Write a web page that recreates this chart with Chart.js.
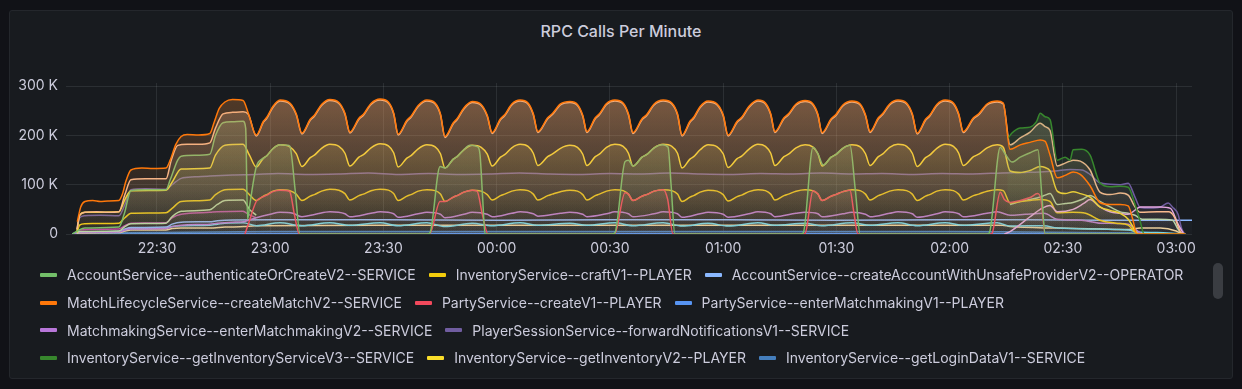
<!DOCTYPE html>
<html><head><meta charset="utf-8">
<script src="https://cdn.jsdelivr.net/npm/chart.js@4.4.1/dist/chart.umd.min.js"></script>
<style>
html,body{margin:0;padding:0;background:#111217;width:1242px;height:389px;overflow:hidden;font-family:Inter,'Noto Sans',sans-serif;}
#panel{position:absolute;left:9px;top:10px;width:1224px;height:369px;background:#181b1f;border:1px solid #24272c;border-radius:3px;box-sizing:border-box;}
#title{position:absolute;left:0;top:21px;width:1242px;text-align:center;color:#ccccdc;font-size:16px;font-weight:500;line-height:20px;}
#chart{position:absolute;left:0;top:0;}
#legend{position:absolute;left:40px;top:261px;width:1170px;height:112px;overflow:hidden;display:flex;flex-wrap:wrap;align-content:flex-start;column-gap:13px;}
.item{display:flex;align-items:center;height:27.7px;color:#ccccdc;font-size:14px;white-space:nowrap;}
.mark{width:17px;height:4px;border-radius:1px;margin-right:10px;flex:none;}
#thumb{position:absolute;left:1213px;top:263px;width:10px;height:36px;border-radius:5px;background:#3a3d42;}
</style></head>
<body>
<div id="panel"></div>
<div id="title">RPC Calls Per Minute</div>
<canvas id="chart" width="1242" height="389"></canvas>
<div id="legend"></div>
<div id="thumb"></div>
<script>
// time = minutes after 22:00, values = calls per minute in thousands (K)
const tickMinutes = [30,60,90,120,150,180,210,240,270,300];
const tickLabels = ['22:30','23:00','23:30','00:00','00:30','01:00','01:30','02:00','02:30','03:00'];
const yTicks = [0,100,200,300];
const yTickLabels = ['0','100 K','200 K','300 K'];

const authenticateOrCreate = [[7.6,0],[9.3,8],[10.9,12],[19.9,14],[21.3,40],[23.1,88],[27,90],[32.4,90],[33.5,110],[35.5,150],[36.4,158],[40,160],[44,162],[45.5,200],[47.5,226],[50,228],[52.8,229],[53.5,215],[54.0,30],[54.6,60],[56.3,136],[58.2,154],[59.1,159],[60.7,173],[62.6,181],[64.5,180],[65.2,178],[66.6,90],[67.9,0],[101.6,0],[102.3,2],[105.0,137],[106.3,134],[108.5,152],[109.5,157],[111.3,171],[112.9,180],[115.0,177],[115.6,160],[116.3,70],[116.9,0],[150.6,0],[151.3,2],[154.0,147],[154.9,150],[156.1,138],[158.5,156],[159.7,161],[161.7,175],[163.8,181],[165.4,176],[166.2,100],[167.2,0],[200.5,0],[201.2,2],[203.8,176],[205.1,163],[206.5,140],[208.6,156],[209.8,161],[211.7,174],[213.6,180],[215.0,90],[216.3,0],[250.0,0],[250.5,2],[253.4,176],[254.5,165],[256.5,146],[258.7,156],[261.3,165],[263.4,171],[264.4,80],[265.3,0],[302.4,0]];

const craftV1 = [[8.8,3],[9.5,18],[10.9,21],[19.9,22],[21.5,33],[23.1,42],[32.4,43],[34,52],[36.4,66],[44,69],[45.5,80],[48,90],[52.8,91],[54.5,80],
[56.3,68],[58.2,77],[59.1,80],[60.7,87],[62.6,90],[65.2,88],[66.9,81],
[68.4,68],[70.6,77],[71.7,80],[73.6,87],[75.8,91],[78.2,89],[79.8,82],
[81.1,69],[83.5,78],[84.7,81],[86.7,88],[89.1,91],[91.3,89],[92.7,82],
[93.9,68],[96.2,77],[97.3,80],[99.2,87],[101.5,90],[103.7,88],[105.1,81],
[106.3,66],[108.5,75],[109.5,78],[111.3,85],[113.5,89],[115.9,87],[117.5,80],
[118.8,69],[121.0,78],[122.1,81],[124.0,87],[126.2,90],[128.3,88],[129.7,81],
[130.9,69],[133.5,78],[134.7,81],[136.9,86],[139.4,89],[141.4,87],[142.8,80],
[143.9,69],[146.1,78],[147.2,81],[149.1,87],[151.3,90],[153.5,88],[154.9,81],
[156.1,68],[158.5,77],[159.7,80],[161.7,87],[164.1,90],[166.4,88],[167.9,81],
[169.1,66],[171.2,75],[172.2,78],[173.9,85],[176.0,89],[178.4,87],[180.0,80],
[181.3,67],[183.7,76],[184.9,79],[186.8,86],[189.2,90],[191.2,88],[192.6,81],
[193.7,69],[196.1,78],[197.3,81],[199.3,87],[201.7,90],[203.7,88],[205.1,81],
[206.2,68],[208.6,77],[209.8,80],[211.7,86],[214.1,90],[216.3,88],[217.7,81],
[218.9,69],[221.1,78],[222.2,81],[224.1,87],[226.3,90],[228.6,88],[230.1,81],
[231.4,68],[233.6,77],[234.7,80],[236.6,87],[238.8,90],[241.0,88],[242.4,81],
[243.6,69],[246.3,78],[247.7,81],[249.9,87],[252.6,90],
[254.2,88],[256.0,63],[258.7,66],[261.3,68],[264.0,70],[266.6,66],[268.5,43],[272.7,44],[276,42],[279.8,28],[284,22],[287.3,18],[289.1,4],[289.8,0],[302.4,0]];

const createAccountWithUnsafeProvider = [[8.8,0],[9.3,4],[19.9,5],[21.5,10],[23.1,13],[32.4,14],[34,20],[36.4,24],[44,25],[46,27],[48,28],[60,29],[90,29],[120,28],[150,29],[180,29],[210,28],[240,29],[260,29],[280,28],[295,28],[304.2,28]];

const createMatchV2 = [[8.9,25],[9.8,55],[10.9,66],[13,68],[15,66],[17,67],[19.9,68],[20.8,80],[21.8,108],[23.1,130],[26,134],[29,133],[32.4,134],[33.5,150],[35,182],[36.4,198],[38,202],[41,201],[44,204],[45.2,228],[46.5,255],[48,268],[50,273],[52.8,271],[54.2,245],
[56.3,201],[58.2,229],[59.1,237],[60.7,259],[62.6,272],[65.2,266],[66.9,244],
[68.4,205],[70.6,233],[71.7,241],[73.6,263],[75.8,273],[78.2,267],[79.8,245],
[81.1,207],[83.5,235],[84.7,243],[86.7,265],[89.1,274],[91.3,268],[92.7,246],
[93.9,203],[96.2,231],[97.3,239],[99.2,261],[101.5,272],[103.7,266],[105.1,244],
[106.3,198],[108.5,226],[109.5,234],[111.3,256],[113.5,269],[115.9,263],[117.5,241],
[118.8,206],[121.0,234],[122.1,242],[124.0,264],[126.2,272],[128.3,266],[129.7,244],
[130.9,208],[133.5,236],[134.7,244],[136.9,264],[139.4,269],[141.4,263],[142.8,241],
[143.9,208],[146.1,236],[147.2,244],[149.1,265],[151.3,272],[153.5,266],[154.9,244],
[156.1,206],[158.5,234],[159.7,242],[161.7,264],[164.1,272],[166.4,266],[167.9,244],
[169.1,201],[171.2,229],[172.2,237],[173.9,259],[176.0,270],[178.4,264],[180.0,242],
[181.3,201],[183.7,229],[184.9,237],[186.8,259],[189.2,272],[191.2,266],[192.6,244],
[193.7,208],[196.1,236],[197.3,244],[199.3,264],[201.7,271],[203.7,265],[205.1,243],
[206.2,206],[208.6,234],[209.8,242],[211.7,262],[214.1,270],[216.3,264],[217.7,242],
[218.9,208],[221.1,236],[222.2,244],[224.1,264],[226.3,272],[228.6,266],[230.1,244],
[231.4,205],[233.6,233],[234.7,241],[236.6,263],[238.8,272],[241.0,266],[242.4,244],
[243.6,208],[246.3,236],[247.7,244],[249.9,264],[252.6,270],
[254.2,266],[256.0,172],[258.7,181],[261.3,186],[264.0,191],[265.3,188],[266.6,160],[268.5,114],[270.6,119],[272.7,126],[274.6,121],[277.2,98],[279.8,64],[282.5,60],[285.2,60],[287.3,57],[288.5,30],[289.6,0],[302.4,0]];

const partyCreateV1 = [[53.3,0],[54.2,20],[56.3,66],[58.2,76],[59.1,79],[60.7,86],[62.6,89],[64.5,88],[65.2,86],[66.4,40],[67.7,0],[101.6,0],[102.3,1],[105.0,66],[106.3,66],[108.5,75],[109.5,78],[111.3,85],[113.5,89],[114.8,87],[116.2,40],[117.7,0],[150.6,0],[151.3,1],[154.0,84],[154.9,81],[156.1,68],[158.5,77],[159.7,80],[161.7,87],[164.1,90],[165.3,70],[166.7,0],[201.0,0],[201.7,1],[203.8,88],[205.1,81],[206.2,68],[208.6,77],[209.8,80],[211.7,86],[213.6,89],[214.6,45],[215.7,0],[250.8,0],[251.2,1],[253.4,85],[254.5,70],[256.0,64],[258.7,68],[261.3,74],[263.3,82],[264.2,70],[265.3,0],[302.4,0]];

const partyEnterMatchmakingV1 = [[7.6,0],[9.5,1],[60,1],[120,1],[180,1],[240,1],[290,1],[302.4,0]];

const enterMatchmakingV2 = [[7.6,0],[9.3,3],[19.9,4],[21.5,8],[23.1,10],[32.4,11],[34,15],[36.4,18],[44,20],[46,22],[50,24],[53,25],[54.2,28],[56.3,33],[60,40],[62.6,44],[66,42],[68.4,35],[72,40],[75.8,45],[79.8,41],[81.1,35],[86.7,42],[89.1,45],[92.7,41],[93.9,34],[99.2,41],[101.5,44],[105.1,40],[106.3,33],[111.3,40],[113.5,44],[117.5,40],[118.8,35],[124.0,42],[126.2,45],[129.7,41],[130.9,36],[136.9,42],[139.4,44],[142.8,40],[143.9,35],[149.1,41],[151.3,45],[154.9,41],[156.1,35],[161.7,41],[164.1,45],[167.9,41],[169.1,34],[173.9,41],[176.0,44],[180.0,40],[181.3,34],[186.8,41],[189.2,45],[192.6,41],[193.7,35],[199.3,42],[201.7,44],[205.1,41],[206.2,35],[211.7,41],[214.1,44],[217.7,40],[218.9,35],[224.1,42],[226.3,45],[230.1,41],[231.4,34],[236.6,41],[238.8,45],[242.4,41],[243.6,35],[249.9,42],[252.6,45],[256,38],[260,40],[265,42],[268.5,30],[275,28],[280,22],[287.3,20],[289.5,8],[291,0],[302.4,0]];

const forwardNotificationsV1 = [[8.8,8],[9.5,33],[10.9,37],[15,38],[19.9,37],[21.5,60],[23.1,90],[27,92],[32.4,91],[34,100],[36.4,113],[40,116],[44,118],[50,120],[56,121],[62,123],[70,121],[78,122],[86,124],[94,121],[102,123],[110,121],[118,122],[126,124],[134,122],[142,121],[150,123],[158,122],[166,124],[174,122],[182,121],[190,123],[198,122],[206,124],[214,122],[222,123],[230,121],[238,123],[246,122],[254,124],[260,125],[264,126],[268,128],[272,131],[275,130],[277.2,121],[279.8,104],[282.5,101],[285.2,100],[287.3,103],[289.1,75],[290.5,54],[293.1,53],[295.8,55],[297.9,63],[299.0,55],[300.5,40],[301.5,10],[302.3,0]];

const getInventoryServiceV3 = [[255.3,193],[256.5,205],[258.7,215],[261.3,217],[263.0,228],[264.0,245],[265.3,238],[266.6,232],[268.5,150],[270.6,156],[271.9,150],[272.7,171],[275,172],[277.2,160],[279.8,104],[282.5,96],[285.2,97],[287.3,95],[289.1,60],[290.5,25],[291.5,0],[302.4,0]];

const getInventoryV2 = [[8.8,5],[9.5,38],[10.9,44],[19.9,45],[21.5,70],[23.1,88],[32.4,89],[34,105],[36.4,132],[44,134],[45.5,160],[48,180],[52.8,182],[54.5,160],
[56.3,136],[58.2,154],[59.1,159],[60.7,173],[62.6,181],[65.2,177],[66.9,163],
[68.4,137],[70.6,155],[71.7,160],[73.6,174],[75.8,182],[78.2,178],[79.8,164],
[81.1,138],[83.5,156],[84.7,161],[86.7,175],[89.1,183],[91.3,179],[92.7,165],
[93.9,136],[96.2,154],[97.3,159],[99.2,173],[101.5,181],[103.7,177],[105.1,163],
[106.3,134],[108.5,152],[109.5,157],[111.3,171],[113.5,180],[115.9,176],[117.5,162],
[118.8,138],[121.0,156],[122.1,161],[124.0,175],[126.2,182],[128.3,178],[129.7,164],
[130.9,139],[133.5,157],[134.7,162],[136.9,174],[139.4,180],[141.4,176],[142.8,162],
[143.9,139],[146.1,157],[147.2,162],[149.1,176],[151.3,182],[153.5,178],[154.9,164],
[156.1,138],[158.5,156],[159.7,161],[161.7,175],[164.1,182],[166.4,178],[167.9,164],
[169.1,134],[171.2,152],[172.2,157],[173.9,171],[176.0,181],[178.4,177],[180.0,163],
[181.3,135],[183.7,153],[184.9,158],[186.8,172],[189.2,182],[191.2,178],[192.6,164],
[193.7,139],[196.1,157],[197.3,162],[199.3,175],[201.7,181],[203.7,177],[205.1,163],
[206.2,138],[208.6,156],[209.8,161],[211.7,174],[214.1,181],[216.3,177],[217.7,163],
[218.9,139],[221.1,157],[222.2,162],[224.1,176],[226.3,182],[228.6,178],[230.1,164],
[231.4,137],[233.6,155],[234.7,160],[236.6,174],[238.8,182],[241.0,178],[242.4,164],
[243.6,139],[246.3,157],[247.7,162],[249.9,175],[252.6,181],
[254.2,176],[256.0,128],[258.7,125],[261.3,129],[264.0,137],[265.3,135],[266.6,128],[268.5,87],[270.6,82],[272.7,86],[274.6,82],[277.2,75],[279.8,55],[282.5,48],[285.2,42],[287.3,30],[289.1,8],[290.0,0],[302.4,0]];

const getLoginDataV1 = [[8.8,0],[9.5,2],[30,3],[60,5],[120,5],[180,5],[240,5],[260,4],[290,2],[302,0]];

// further series below the visible part of the scrolled legend
const series12 = [[8.8,10],[9.5,38],[10.9,44],[14,45],[17,44],[19.9,45],[21.5,80],[23.1,110],[27,112],[32.4,112],[33.8,150],[35.5,180],[38,182],[41,182],[44,185],[45.5,215],[47.5,244],[50,247],[52.8,248],[54.2,243],
[56.3,199],[58.2,227],[59.1,235],[60.7,257],[62.6,270],[65.2,264],[66.9,242],
[68.4,203],[70.6,231],[71.7,239],[73.6,261],[75.8,271],[78.2,265],[79.8,243],
[81.1,205],[83.5,233],[84.7,241],[86.7,263],[89.1,272],[91.3,266],[92.7,244],
[93.9,201],[96.2,229],[97.3,237],[99.2,259],[101.5,270],[103.7,264],[105.1,242],
[106.3,196],[108.5,224],[109.5,232],[111.3,254],[113.5,267],[115.9,261],[117.5,239],
[118.8,204],[121.0,232],[122.1,240],[124.0,262],[126.2,270],[128.3,264],[129.7,242],
[130.9,206],[133.5,234],[134.7,242],[136.9,262],[139.4,267],[141.4,261],[142.8,239],
[143.9,206],[146.1,234],[147.2,242],[149.1,263],[151.3,270],[153.5,264],[154.9,242],
[156.1,204],[158.5,232],[159.7,240],[161.7,262],[164.1,270],[166.4,264],[167.9,242],
[169.1,199],[171.2,227],[172.2,235],[173.9,257],[176.0,268],[178.4,262],[180.0,240],
[181.3,199],[183.7,227],[184.9,235],[186.8,257],[189.2,270],[191.2,264],[192.6,242],
[193.7,206],[196.1,234],[197.3,242],[199.3,262],[201.7,269],[203.7,263],[205.1,241],
[206.2,204],[208.6,232],[209.8,240],[211.7,260],[214.1,268],[216.3,262],[217.7,240],
[218.9,206],[221.1,234],[222.2,242],[224.1,262],[226.3,270],[228.6,264],[230.1,242],
[231.4,203],[233.6,231],[234.7,239],[236.6,261],[238.8,270],[241.0,264],[242.4,242],
[243.6,206],[246.3,234],[247.7,242],[249.9,262],[252.6,268],
[254.2,264],[256.0,181],[258.7,195],[261.3,207],[264.0,225],[265.3,218],[266.6,210],[268.5,138],[270.6,144],[272.7,150],[274.6,148],[277.2,130],[279.8,85],[282.5,80],[285.2,83],[287.3,79],[289.1,55],[290.5,44],[295,45],[298,45],[299.5,35],[301.1,5],[302.0,0]];
const series13 = [[8.8,0],[9.3,5],[19.9,6],[21.5,15],[23.1,21],[32.4,22],[34,35],[36.4,46],[44,49],[46,60],[48,68],[52.8,69],[54.5,50],[56.3,38],[57,null],[255,null],[256,60],[258.7,66],[261.3,70],[264,75],[265.3,79],[266.6,82],[268.5,60],[270.6,62],[272.7,64],[275,70],[277.2,78],[279.8,66],[282.5,55],[285.2,45],[287.3,42],[289.1,38],[291,30],[295,30],[299,28],[300.5,10],[301.5,0]];
const series14 = [[8.5,0],[9.3,2],[19.9,3],[21.5,6],[23.1,8],[32.4,8],[34,11],[36.4,12],[44,12],[48,14],[53,15],[56,17],[90,18],[150,18],[210,18],[254,18],[256,15],[268.5,12],[280,10],[287.3,9],[290.5,12],[295.8,12],[300,6],[301.5,0]];
const series15 = [[7.6,0],[9.3,4],[19.9,5],[21.5,9],[23.1,11],[32.4,12],[34,15],[36.4,17],[44,18],[46,20],[48,22],[52.8,23],[56.3,17],[62.6,23],[68.4,17],[75.8,23],[81.1,18],[89.1,23],[93.9,17],[101.5,23],[106.3,15],[113.5,22],[118.8,17],[126.2,23],[130.9,18],[139.4,22],[143.9,18],[151.3,23],[156.1,17],[164.1,23],[169.1,16],[176.0,22],[181.3,16],[189.2,23],[193.7,18],[201.7,22],[206.2,17],[214.1,23],[218.9,18],[226.3,23],[231.4,17],[238.8,23],[243.6,18],[252.6,23],[256,16],[265,17],[268.5,12],[280,10],[287.3,8],[290,4],[295,3],[300,1],[302,0]];
const series16 = [[254.5,0],[256,5],[261.3,35],[264.0,50],[266.6,58],[268.5,45],[272.7,50],[275.5,62],[277.2,70],[279.8,55],[282.5,45],[285.2,42],[287.3,40],[288.5,45],[290.5,55],[295.8,55],[298.5,52],[300.5,20],[302,0]];
const series17 = [[8.8,0],[9.3,8],[19.9,10],[21.5,17],[23.1,22],[32.4,23],[34,33],[36.4,40],[44,44],[46,45],[52.8,46],[54.2,40],[56.3,33]];

const seriesNames = [
  'AccountService--authenticateOrCreateV2--SERVICE',
  'InventoryService--craftV1--PLAYER',
  'AccountService--createAccountWithUnsafeProviderV2--OPERATOR',
  'MatchLifecycleService--createMatchV2--SERVICE',
  'PartyService--createV1--PLAYER',
  'PartyService--enterMatchmakingV1--PLAYER',
  'MatchmakingService--enterMatchmakingV2--SERVICE',
  'PlayerSessionService--forwardNotificationsV1--SERVICE',
  'InventoryService--getInventoryServiceV3--SERVICE',
  'InventoryService--getInventoryV2--PLAYER',
  'InventoryService--getLoginDataV1--SERVICE',
  'Series 12','Series 13','Series 14','Series 15','Series 16','Series 17'
];
const seriesValues = [authenticateOrCreate, craftV1, createAccountWithUnsafeProvider, createMatchV2, partyCreateV1, partyEnterMatchmakingV1, enterMatchmakingV2, forwardNotificationsV1, getInventoryServiceV3, getInventoryV2, getLoginDataV1, series12, series13, series14, series15, series16, series17];
const visibleLegendCount = 11;

// styles
const seriesColors = ['#73BF69','#F2CC0C','#8AB8FF','#FF780A','#F2495C','#5794F2','#B877D9','#705DA0','#37872D','#FADE2A','#447EBC','#F9BA8F','#B7DBAB','#F4D598','#70DBED','#E5A8E2','#BA43A9'];
// lower = drawn later (on top)
const drawOrder = [3,8,12,0,4,16,10,6,1,4,15,2,9,14,13,5,11];

function mute(hex){const n=parseInt(hex.slice(1),16);const k=0.33,g=170;
  return [Math.round((n>>16&255)*(1-k)+g*k),Math.round((n>>8&255)*(1-k)+g*k),Math.round((n&255)*(1-k)+g*k)];}
function gradFill(hex){
  const [r,g,b]=mute(hex);
  return (c)=>{const ca=c.chart.chartArea; if(!ca) return `rgba(${r},${g},${b},0.1)`;
    const gr=c.chart.ctx.createLinearGradient(0,ca.top,0,ca.bottom);
    gr.addColorStop(0,`rgba(${r},${g},${b},0.31)`); gr.addColorStop(1,`rgba(${r},${g},${b},0.015)`); return gr;};
}

const datasets = seriesValues.map((arr,i)=>({
  label: seriesNames[i],
  data: arr.map(p=>({x:p[0],y:p[1]})),
  borderColor: seriesColors[i],
  backgroundColor: gradFill(seriesColors[i]),
  borderWidth: 1.5,
  pointRadius: 0,
  fill: 'origin',
  cubicInterpolationMode: 'monotone',
  order: drawOrder[i],
  spanGaps: false
}));

Chart.defaults.font.family = "Inter, 'Noto Sans', sans-serif";
Chart.defaults.font.size = 14;
Chart.defaults.color = '#ccccdc';

new Chart(document.getElementById('chart'), {
  type: 'line',
  data: { datasets },
  options: {
    responsive: false, animation: false, devicePixelRatio: 1,
    layout: { padding: { left: 10, right: 50, top: 83, bottom: 125 } },
    plugins: { legend: { display: false }, tooltip: { enabled: false }, title: { display: false } },
    scales: {
      x: {
        type: 'linear', min: 5.9, max: 304.2,
        afterBuildTicks: (s)=>{ s.ticks = tickMinutes.map(v=>({value:v})); },
        afterFit: (s)=>{ s.height = 30; },
        ticks: { callback: (v,i)=>tickLabels[i], padding: 6, maxRotation: 0, autoSkip: false, color:'#ccccdc' },
        grid: { color: 'rgba(240,250,255,0.09)', drawTicks: false },
        border: { display: false }
      },
      y: {
        min: 0, max: 306.6,
        afterBuildTicks: (s)=>{ s.ticks = yTicks.map(v=>({value:v})); },
        afterFit: (s)=>{ s.width = 56; },
        ticks: { callback: (v,i)=>yTickLabels[i], padding: 8, color:'#ccccdc' },
        grid: { color: 'rgba(240,250,255,0.09)', drawTicks: false },
        border: { display: false }
      }
    }
  }
});

const legend = document.getElementById('legend');
for (let i=0;i<visibleLegendCount;i++){
  const it=document.createElement('div'); it.className='item';
  const m=document.createElement('span'); m.className='mark'; m.style.background=seriesColors[i];
  const t=document.createElement('span'); t.textContent=seriesNames[i];
  it.appendChild(m); it.appendChild(t); legend.appendChild(it);
}
</script>
</body></html>
